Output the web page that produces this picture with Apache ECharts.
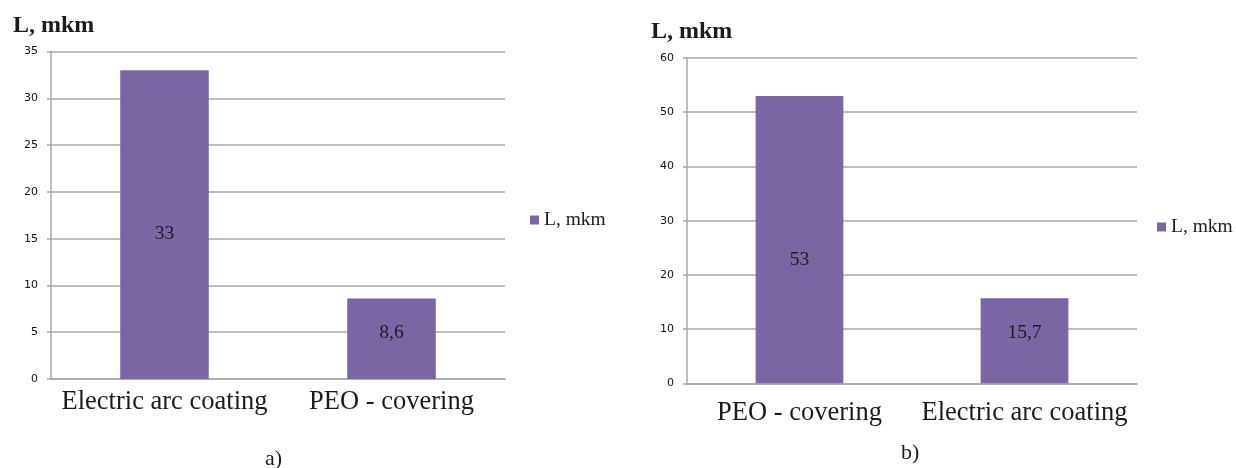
<!DOCTYPE html>
<html>
<head>
<meta charset="utf-8">
<script src="https://cdn.jsdelivr.net/npm/echarts@6/dist/echarts.min.js"></script>
<style>
  html, body { margin: 0; padding: 0; background: #fff; }
  #chart { width: 1236px; height: 468px; }
</style>
</head>
<body>
<div id="chart"></div>
<script>
// Panel a)
const categoriesA = ['Electric arc coating', 'PEO - covering'];
const valuesA = [33, 8.6];
const labelsA = ['33', '8,6'];
const yTicksA = { min: 0, max: 35, interval: 5 };

// Panel b)
const categoriesB = ['PEO - covering', 'Electric arc coating'];
const valuesB = [53, 15.7];
const labelsB = ['53', '15,7'];
const yTicksB = { min: 0, max: 60, interval: 10 };

const seriesName = 'L, mkm';
const panelTitles = ['a)', 'b)'];

// Styling
const BAR = '#7b66a5';
const GRID_LINE = '#a8a8a8';
const SERIF = '"Liberation Serif", "Times New Roman", serif';
const SANS = '"DejaVu Sans", Verdana, sans-serif';
const TEXT = '#1c1c1c';

// vertical nudges of the value labels inside each bar
const labelShiftA = [9, -6];
const labelShiftB = [20, -8];

function yAxis(gridIndex, ticks) {
  return {
    type: 'value', gridIndex,
    min: ticks.min, max: ticks.max, interval: ticks.interval,
    axisLine: { show: true, lineStyle: { color: GRID_LINE, width: 1.5 } },
    axisTick: { show: true, length: 4, lineStyle: { color: GRID_LINE, width: 1.5 } },
    splitLine: { show: true, lineStyle: { color: GRID_LINE, width: 1.5 } },
    axisLabel: { fontFamily: SANS, fontSize: 11, color: '#111', margin: 13 }
  };
}

function xAxis(gridIndex, cats, margin) {
  return {
    type: 'category', gridIndex, data: cats,
    axisLine: { show: true, lineStyle: { color: GRID_LINE, width: 1.5 } },
    axisTick: { show: false },
    axisLabel: { fontFamily: SERIF, fontSize: 26.5, color: TEXT, margin, interval: 0 }
  };
}

function barSeries(idx, values, labels, shifts) {
  return {
    type: 'bar', name: seriesName,
    xAxisIndex: idx, yAxisIndex: idx,
    barWidth: '39%',
    itemStyle: { color: BAR },
    data: values.map((v, i) => ({
      value: v,
      label: { offset: [0, shifts[i]], formatter: () => labels[i] }
    })),
    label: {
      show: true, position: 'inside',
      fontFamily: SERIF, fontSize: 19.5, color: TEXT
    }
  };
}

const legendText = { fontFamily: SERIF, fontSize: 19.5, color: TEXT };

const option = {
  animation: false,
  backgroundColor: '#fff',
  title: [
    { text: seriesName, left: 8, top: 9,
      textStyle: { fontFamily: SERIF, fontSize: 24, fontWeight: 'bold', color: TEXT } },
    { text: seriesName, left: 646, top: 15,
      textStyle: { fontFamily: SERIF, fontSize: 24, fontWeight: 'bold', color: TEXT } },
    { text: panelTitles[0], left: 260, top: 443,
      textStyle: { fontFamily: SERIF, fontSize: 22, fontWeight: 'normal', color: TEXT } },
    { text: panelTitles[1], left: 896, top: 437,
      textStyle: { fontFamily: SERIF, fontSize: 22, fontWeight: 'normal', color: TEXT } }
  ],
  legend: [
    { data: [seriesName], left: 525, top: 205, icon: 'rect',
      itemWidth: 9, itemHeight: 9, textStyle: legendText, selectedMode: false },
    { data: [seriesName], left: 1152, top: 212, icon: 'rect',
      itemWidth: 9, itemHeight: 9, textStyle: legendText, selectedMode: false }
  ],
  grid: [
    { left: 51, top: 51.5, width: 454, height: 327.5 },
    { left: 687, top: 58, width: 450, height: 325.3 }
  ],
  xAxis: [xAxis(0, categoriesA, 10), xAxis(1, categoriesB, 16)],
  yAxis: [yAxis(0, yTicksA), yAxis(1, yTicksB)],
  series: [
    barSeries(0, valuesA, labelsA, labelShiftA),
    barSeries(1, valuesB, labelsB, labelShiftB)
  ]
};

const chart = echarts.init(document.getElementById('chart'), null, { renderer: 'canvas' });
chart.setOption(option);
</script>
</body>
</html>
